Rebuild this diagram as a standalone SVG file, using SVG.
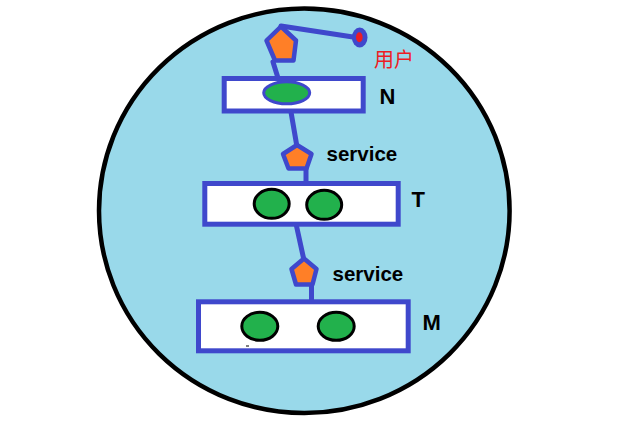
<svg xmlns="http://www.w3.org/2000/svg" width="644" height="435" viewBox="0 0 644 435">
<style>
.box{fill:#ffffff;stroke:#3f48cc;stroke-width:5}
.pent{fill:#ff7f27;stroke:#3f48cc;stroke-width:4.5;stroke-linejoin:round}
.conn{stroke:#3f48cc;stroke-width:5;fill:none;stroke-linecap:round}
.dot{fill:#22b14c;stroke:#000000;stroke-width:3}
.lbl{font-family:"Liberation Sans",Arial,sans-serif;font-weight:bold;fill:#000000}
</style>
<rect x="0" y="0" width="644" height="435" fill="#ffffff"/>
<ellipse id="boundary" cx="304.3" cy="210.8" rx="205.3" ry="202.2" fill="#99d9ea" stroke="#000000" stroke-width="4.5"/>
<g id="connectors">
<line class="conn" x1="281" y1="26" x2="353" y2="37"/>
<line class="conn" x1="273" y1="62" x2="278" y2="78"/>
<line class="conn" x1="291" y1="112" x2="296.5" y2="144"/>
<line class="conn" x1="306" y1="168" x2="306" y2="183"/>
<line class="conn" x1="296.5" y1="226" x2="303.5" y2="258"/>
<line class="conn" x1="311.5" y1="284" x2="311.5" y2="300"/>
</g>
<g id="user">
<ellipse cx="359.7" cy="37.5" rx="7.8" ry="10" fill="#3f48cc"/>
<ellipse cx="359.3" cy="37.3" rx="3.3" ry="5" fill="#ed1c24"/>
<text x="374" y="67" font-family="'Noto Sans CJK SC','Noto Sans',sans-serif" font-size="20" fill="#ed1c24">用户</text>
</g>
<g id="gateway">
<polygon class="pent" points="281,26.5 266.5,40.5 275,60.5 293.5,60.5 296,40.5"/>
</g>
<g id="N">
<rect class="box" x="224.2" y="78.5" width="139" height="32.5"/>
<ellipse cx="286.7" cy="92.8" rx="23" ry="11" fill="#22b14c" stroke="#3f48cc" stroke-width="3"/>
<text class="lbl" x="379.5" y="104.3" font-size="22">N</text>
</g>
<g id="service1">
<polygon class="pent" points="297,145 283,154 288.5,168.5 306.5,168.5 311.5,154"/>
<text class="lbl" x="326.5" y="161" font-size="20.5">service</text>
</g>
<g id="T">
<rect class="box" x="204.8" y="183.5" width="193.4" height="40.7"/>
<ellipse class="dot" cx="271.7" cy="203.8" rx="17.5" ry="14.5"/>
<ellipse class="dot" cx="324.2" cy="204.8" rx="17.5" ry="14.5"/>
<text class="lbl" x="411.5" y="207" font-size="22">T</text>
</g>
<g id="service2">
<polygon class="pent" points="304,258.5 291.5,269 296,284.5 312.5,284.5 316.5,269"/>
<text class="lbl" x="332.5" y="281" font-size="20.5">service</text>
</g>
<g id="M">
<rect class="box" x="198.5" y="301.8" width="209.7" height="49"/>
<ellipse class="dot" cx="259.8" cy="326.3" rx="18" ry="14"/>
<ellipse class="dot" cx="336.2" cy="326.3" rx="18" ry="14"/>
<rect x="246" y="345.5" width="3" height="1" fill="#000000"/>
<text class="lbl" x="422.5" y="330" font-size="22">M</text>
</g>
</svg>
